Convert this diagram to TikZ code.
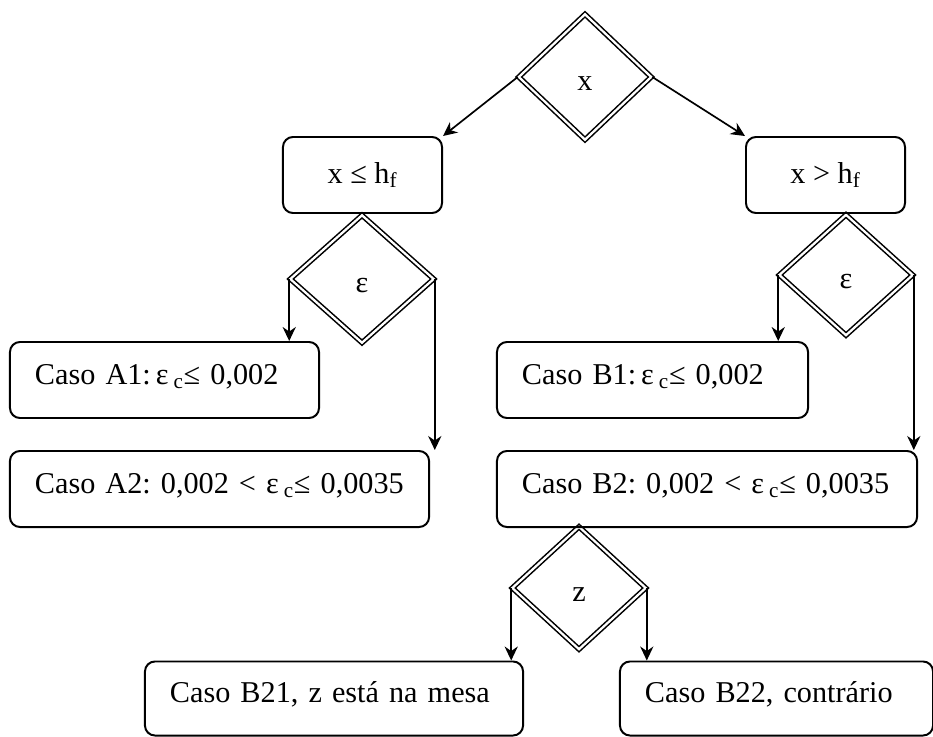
\documentclass[tikz,border=0pt]{standalone}
\usepackage{fontspec}
\setmainfont{Liberation Serif}
\usepackage{tikz}
\usetikzlibrary{shapes.geometric}
\usetikzlibrary{arrows.meta}

\tikzset{
  caixa/.style={draw, rounded corners=0.25cm, line width=1.4pt, minimum height=1.9cm, inner sep=0pt},
  caso/.style={caixa, align=left, inner xsep=0.625cm, text width=#1, text height=16pt, text depth=10pt,
               execute at begin node={\hbox\bgroup}, execute at end node={\egroup}},
  decisao/.style={diamond, draw, double, line width=1.1pt, double distance=1.6pt, inner sep=0pt,
                  text height=18.5pt, text depth=0pt},
  seta/.style={line width=1.2pt, -{Stealth[length=0.35cm, width=0.33cm]}}
}

\begin{document}
\begin{tikzpicture}[x=0.025cm, y=-0.025cm, every node/.style={font=\fontsize{21.5pt}{26pt}\selectfont\frenchspacing}]
    \useasboundingbox (0,0) rectangle (933,736);

    % decisoes
    \node[decisao, minimum width=3.325cm, minimum height=3.15cm] (x) at (585,77) {x};
    \node[decisao, minimum width=3.6cm, minimum height=3.2cm] (epsA) at (362,279) {ε};
    \node[decisao, minimum width=3.35cm, minimum height=3.025cm] (epsB) at (846,275) {ε};
    \node[decisao, minimum width=3.35cm, minimum height=3.075cm] (z) at (579,588) {z};

    % caixas
    \node[caixa, minimum width=3.975cm] (xle) at (362.5,175) {x ≤ h\textsubscript{f}};
    \node[caixa, minimum width=3.975cm] (xgt) at (825.5,175) {x > h\textsubscript{f}};
    \node[caso=6.475cm] (A1) at (164.5,380) {Caso A1:\,ε\,\textsubscript{c}≤ 0,002};
    \node[caso=9.225cm] (A2) at (219.5,489) {Caso A2: 0,002 < ε\,\textsubscript{c}≤ 0,0035};
    \node[caso=6.525cm] (B1) at (652.5,380) {Caso B1:\,ε\,\textsubscript{c}≤ 0,002};
    \node[caso=9.25cm] (B2) at (707,489) {Caso B2: 0,002 < ε\,\textsubscript{c}≤ 0,0035};
    \node[caso=8.2cm, minimum height=1.85cm] (B21) at (334,698.5) {Caso B21, z está na mesa};
    \node[caso=6.575cm, minimum height=1.85cm] (B22) at (776.5,698.5) {Caso B22, contrário};

    \draw[seta] (x.west) -- (xle.north east);
    \draw[seta] (x.east) -- (xgt.north west);

    \foreach \d/\lado/\c in {epsA/west/A1, epsA/east/A2, epsB/west/B1, epsB/east/B2, z/west/B21, z/east/B22}{
        \draw[seta] (\d.\lado) -- (\d.\lado |- \c.north);
    };

\end{tikzpicture}
\end{document}
